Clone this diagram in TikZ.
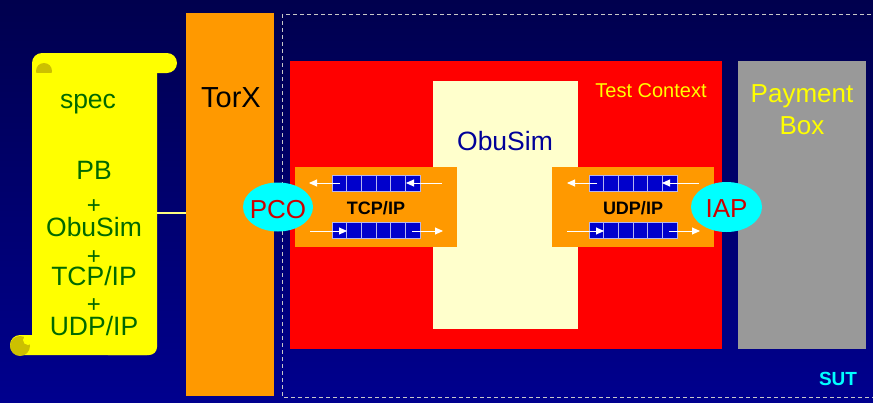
\documentclass[tikz,border=0pt]{standalone}
\usepackage{fontspec}
\setmainfont{Liberation Sans}
\usetikzlibrary{arrows.meta}
\definecolor{bgtop}{RGB}{0,0,78}
\definecolor{bgbot}{RGB}{0,0,142}
\definecolor{orng}{RGB}{255,153,0}
\definecolor{cream}{RGB}{255,255,204}
\definecolor{pbgray}{RGB}{153,153,153}
\definecolor{qblue}{RGB}{0,0,204}
\definecolor{qedge}{RGB}{180,180,240}
\definecolor{scrollgreen}{RGB}{0,105,0}
\definecolor{curlc}{RGB}{204,192,0}
\definecolor{darkred}{RGB}{204,0,0}
\definecolor{obublue}{RGB}{0,0,153}
\definecolor{dashgray}{RGB}{200,200,200}
\definecolor{lineyellow}{RGB}{255,255,128}
\definecolor{ycol}{RGB}{255,255,0}
\definecolor{ccol}{RGB}{0,255,255}
\definecolor{rcol}{RGB}{255,0,0}
\newcommand{\fs}[1]{\fontsize{#1}{#1}\selectfont}
\begin{document}
\begin{tikzpicture}[x=1pt,y=-1pt,
  box/.style={inner sep=0pt, anchor=north west},
  cell/.style={fill=qblue, draw=qedge, line width=0.6pt},
  warrow/.style={white, line width=0.9pt, -{Triangle[length=8pt,width=7pt]}},
  sctext/.style={text=scrollgreen, anchor=base, font=\fs{26.5}},
  plus/.style={text=scrollgreen, anchor=base, font=\fs{24}},
]
\useasboundingbox (0,0) rectangle (873,402);
\shade[top color=bgtop, bottom color=bgbot] (0,0) rectangle (873,402);

% scroll
\fill[ycol, rounded corners=10pt] (32,53) rectangle (177,73);
\fill[ycol] (32,63) rectangle (149,355);
\fill[ycol, rounded corners=8pt] (100,63) rectangle (157,355);
\fill[ycol, rounded corners=10pt] (10,335) rectangle (157,355);
\begin{scope}
  \clip (35,61) rectangle (53,72);
  \fill[curlc] (44,71) circle (8);
\end{scope}
\fill[curlc] (20,346) circle (10);
\fill[ycol] (28,340) circle (5);
\coordinate (scrollout) at (157,213);

\node[sctext] (spec) at (88,108) {spec};
\node[sctext] (pb) at (94,179) {PB};
\node[plus] (p1) at (94,213) {+};
\node[sctext] (obu1) at (94,236) {ObuSim};
\node[plus] (p2) at (94,264) {+};
\node[sctext] (tcp1) at (94,285) {TCP/IP};
\node[plus] (p3) at (94,312) {+};
\node[sctext] (udp1) at (94,335) {UDP/IP};

% TorX
\node[box, fill=orng, minimum width=88pt, minimum height=383pt] (torx) at (186,13) {};
\node[anchor=base, font=\fs{29}] (torxl) at (231,107) {TorX};
\draw[lineyellow, line width=2pt] (scrollout) -- (scrollout -| torx.west);

% SUT dashed box
\draw[dashgray, line width=1pt, dash pattern=on 4pt off 3pt] (282,14) rectangle (890,397);
\node[anchor=base, text=ccol, font=\bfseries\fs{19}] (sut) at (838,385) {SUT};

% Test context
\node[box, fill=rcol, minimum width=432pt, minimum height=288pt] (tc) at (290,61) {};
\node[anchor=base, text=ycol, font=\fs{20}] (tcl) at (651,97) {Test Context};

% ObuSim
\node[box, fill=cream, minimum width=145pt, minimum height=248pt] (obu) at (433,81) {};
\node[anchor=base, text=obublue, font=\fs{26.5}] (obul) at (505,150) {ObuSim};

% Payment box
\node[box, fill=pbgray, minimum width=128pt, minimum height=288pt] (pb) at (738,61) {};
\node[anchor=base, text=ycol, font=\fs{26}] (pbl1) at (802,102) {Payment};
\node[anchor=base, text=ycol, font=\fs{26}] (pbl2) at (802,134) {Box};

% TCP/IP box
\node[box, fill=orng, minimum width=162pt, minimum height=80pt] (tcp) at (295,167) {};
\node[anchor=base, font=\bfseries\fs{18}] (tcpl) at (376,214) {TCP/IP};
\foreach \i in {0,...,5} {
  \draw[cell] ({332+\i*14.667},175) rectangle ++(14.667,16);
  \draw[cell] ({332+\i*14.667},222) rectangle ++(14.667,16.5);
}
\draw[warrow] (442,183) -- (406,183);
\draw[warrow] (340,183) -- (309,183);
\draw[warrow] (310,231) -- (347,231);
\draw[warrow] (412,231) -- (443,231);

% UDP/IP box
\node[box, fill=orng, minimum width=162pt, minimum height=80pt] (udp) at (552,167) {};
\node[anchor=base, font=\bfseries\fs{18}] (udpl) at (633,214) {UDP/IP};
\foreach \i in {0,...,5} {
  \draw[cell] ({589+\i*14.667},175) rectangle ++(14.667,16);
  \draw[cell] ({589+\i*14.667},222) rectangle ++(14.667,16.5);
}
\draw[warrow] (699,183) -- (662,183);
\draw[warrow] (597,183) -- (567,183);
\draw[warrow] (567,231) -- (604,231);
\draw[warrow] (669,231) -- (700,231);

% PCO and IAP
\fill[ccol] (278,207) ellipse [x radius=35pt, y radius=24.5pt];
\node[anchor=base, text=darkred, font=\fs{26}] (pco) at (278,218) {PCO};
\fill[ccol] (726.5,207) ellipse [x radius=35.5pt, y radius=25pt];
\node[anchor=base, text=darkred, font=\fs{26}] (iap) at (726.5,217) {IAP};
\end{tikzpicture}
\end{document}
